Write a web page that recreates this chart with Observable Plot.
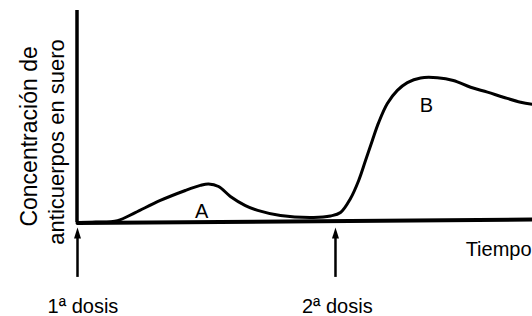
<!DOCTYPE html>
<html><head><meta charset="utf-8">
<script src="https://cdn.jsdelivr.net/npm/d3@7"></script>
<script src="https://cdn.jsdelivr.net/npm/@observablehq/plot@0.6"></script>
<style>body{margin:0;background:#fff} svg{display:block}</style>
</head><body><div id="chart"></div>
<script>
// Curve: time (arbitrary units) vs. serum antibody concentration (arbitrary units)
const tiempo = [0, 0.40, 0.88, 1.27, 1.82, 2.37, 2.70, 2.88, 3.10, 3.36, 3.69, 3.96, 4.46, 5.19, 5.56, 5.78, 6.00, 6.18, 6.33, 6.48, 6.62, 6.81, 7.03, 7.25, 7.54, 7.91, 8.26, 8.64, 9.01, 9.36, 9.74, 10];
const concentracion = [0, 0.2, 0.9, 4.7, 10.4, 15.1, 17.5, 18.2, 17.0, 12.3, 8.0, 5.7, 3.3, 2.4, 3.1, 4.7, 11.3, 19.8, 29.2, 38.7, 47.2, 56.1, 62.3, 66.0, 68.2, 68.3, 67.0, 63.8, 61.5, 59.1, 56.7, 55.7];

// Axis line (slightly tilted in original)
const ejeXT = [0, 10];
const ejeXC = [-0.24, 1.4];

// Doses (arrows)
const dosisT = [0, 5.67];
const dosisLabels = ["1ª dosis", "2ª dosis"];
const dosisLabelT = [0.12, 5.71];

// Peak labels
const picoLabels = ["A", "B"];
const picoT = [2.73, 7.67];
const picoC = [1.9, 52.1];

// Axis titles
const tituloX = "Tiempo";
const tituloY = ["Concentración de", "anticuerpos en suero"];

const curva = tiempo.map((t, i) => ({t, c: concentracion[i]}));
const ejeX = ejeXT.map((t, i) => ({t, c: ejeXC[i]}));
const dosis = dosisT.map((t, i) => ({t, lt: dosisLabelT[i], label: dosisLabels[i]}));
const picos = picoLabels.map((label, i) => ({label, t: picoT[i], c: picoC[i]}));
const ylab = [{label: tituloY[0], t: -0.88, c: 40.6, fs: 23}, {label: tituloY[1], t: -0.29, c: 38, fs: 22}];

const font = "Liberation Sans, Arial, Helvetica, sans-serif";

const chart = Plot.plot({
  width: 532, height: 316,
  marginLeft: 77, marginRight: 0, marginTop: 10, marginBottom: 94,
  x: {domain: [0, 10], axis: null},
  y: {domain: [0, 100], axis: null},
  style: {fontFamily: font, background: "#fff", color: "black"},
  marks: [
    Plot.ruleX([0], {y1: 0, y2: 100, stroke: "black", strokeWidth: 3.5, dx: -0.5}),
    Plot.line(ejeX, {x: "t", y: "c", stroke: "black", strokeWidth: 4}),
    Plot.line(curva, {x: "t", y: "c", curve: "catmull-rom", stroke: "black", strokeWidth: 3}),
    Plot.ruleX(dosis, {x: "t", y1: -25.9, y2: -7, stroke: "black", strokeWidth: 2.5}),
    Plot.vector(dosis, {x: "t", y: -2.4, length: 11, shape: "spike", r: 3.5, anchor: "end", fill: "black", fillOpacity: 1, stroke: "none"}),
    Plot.text(dosis, {x: "lt", y: -42.9, text: "label", fontSize: 20, lineAnchor: "bottom", fill: "black"}),
    Plot.text([tituloX], {x: 9.98, y: -15.6, text: d => d, fontSize: 20, textAnchor: "end", lineAnchor: "bottom", fill: "black"}),
    Plot.text(picos, {x: "t", y: "c", text: "label", fontSize: 20, lineAnchor: "bottom", fill: "black"}),
    Plot.text(ylab.slice(0, 1), {x: "t", y: "c", text: "label", fontSize: 23, rotate: -90, lineAnchor: "bottom", fill: "black"}),
    Plot.text(ylab.slice(1), {x: "t", y: "c", text: "label", fontSize: 22, rotate: -90, lineAnchor: "bottom", fill: "black"})
  ]
});
document.getElementById("chart").append(chart);
</script>
</body></html>
